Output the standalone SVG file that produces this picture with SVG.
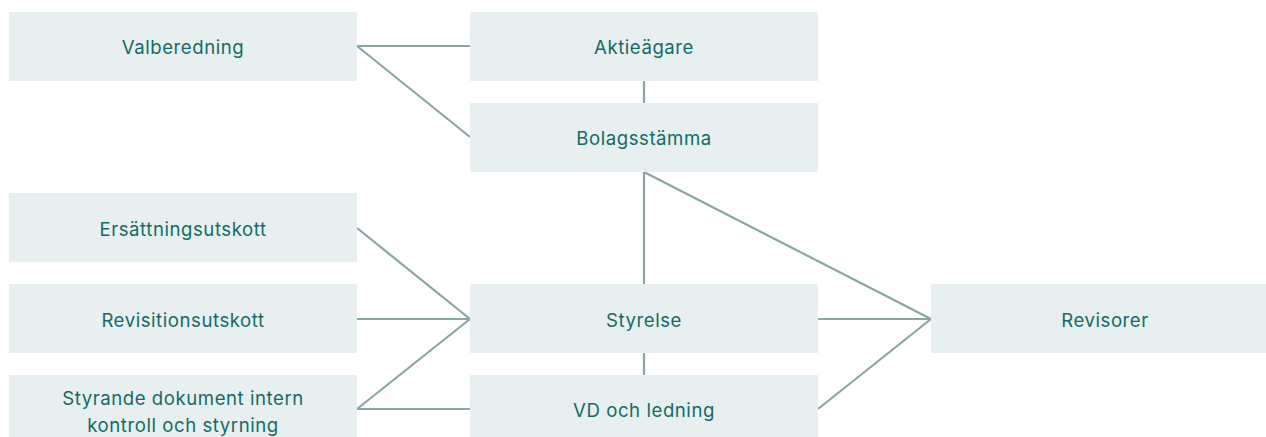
<svg xmlns="http://www.w3.org/2000/svg" width="1266" height="437" viewBox="0 0 1266 437">
<style>
.box{fill:#e7eff0}
.t{font-family:Inter,"Liberation Sans",Arial,sans-serif;font-size:18.6px;letter-spacing:0.55px;fill:#136b66;text-anchor:middle}
.c{stroke:#89a6a3;stroke-width:2.2;fill:none}
</style>
<rect width="1266" height="437" fill="#ffffff"/>
<g id="connectors">
<line class="c" x1="357" y1="46" x2="470" y2="46"/>
<line class="c" x1="357" y1="46" x2="470" y2="137"/>
<line class="c" x1="644" y1="81" x2="644" y2="103"/>
<line class="c" x1="644" y1="172" x2="644" y2="284"/>
<line class="c" x1="644" y1="353" x2="644" y2="375"/>
<line class="c" x1="357" y1="228" x2="470" y2="319"/>
<line class="c" x1="357" y1="319" x2="470" y2="319"/>
<line class="c" x1="357" y1="409" x2="470" y2="319"/>
<line class="c" x1="357" y1="409" x2="470" y2="409"/>
<line class="c" x1="644" y1="172" x2="931" y2="319"/>
<line class="c" x1="818" y1="319" x2="931" y2="319"/>
<line class="c" x1="818" y1="409" x2="931" y2="319"/>
</g>
<g id="valberedning"><rect class="box" x="9" y="12" width="348" height="69"/><text class="t" x="183" y="54">Valberedning</text></g>
<g id="aktieagare"><rect class="box" x="470" y="12" width="348" height="69"/><text class="t" x="644" y="54">Aktieägare</text></g>
<g id="bolagsstamma"><rect class="box" x="470" y="103" width="348" height="69"/><text class="t" x="644" y="145">Bolagsstämma</text></g>
<g id="ersattningsutskott"><rect class="box" x="9" y="193" width="348" height="69"/><text class="t" x="183" y="236">Ersättningsutskott</text></g>
<g id="revisionsutskott"><rect class="box" x="9" y="284" width="348" height="69"/><text class="t" x="183" y="327">Revisitionsutskott</text></g>
<g id="styrande"><rect class="box" x="9" y="375" width="348" height="69"/><text class="t" x="183" y="405">Styrande dokument intern</text><text class="t" x="183" y="432">kontroll och styrning</text></g>
<g id="styrelse"><rect class="box" x="470" y="284" width="348" height="69"/><text class="t" x="644" y="327">Styrelse</text></g>
<g id="vd"><rect class="box" x="470" y="375" width="348" height="69"/><text class="t" x="644" y="417">VD och ledning</text></g>
<g id="revisorer"><rect class="box" x="931" y="284" width="335" height="69"/><text class="t" x="1105" y="327">Revisorer</text></g>
</svg>
